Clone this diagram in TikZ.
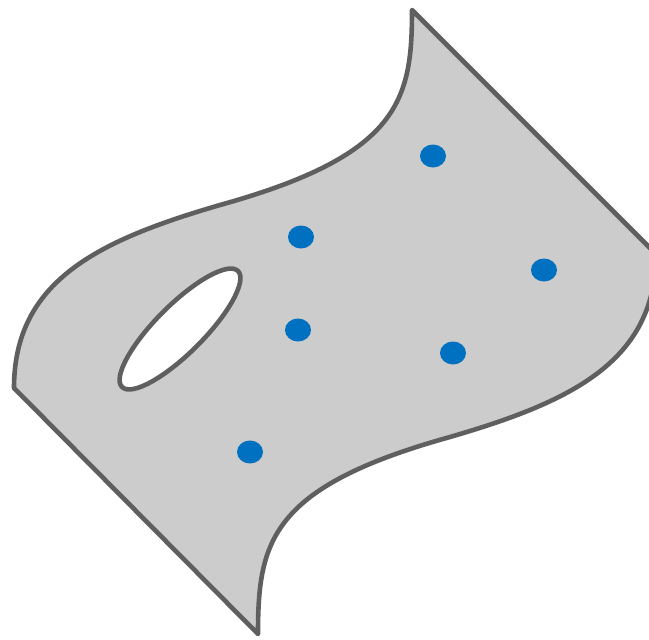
\documentclass[tikz,border=0pt]{standalone}
\usepackage{tikz}

\definecolor{sheetgray}{HTML}{CCCCCC}
\definecolor{edgegray}{HTML}{5F5F5F}
\definecolor{pointblue}{HTML}{0070C0}

\begin{document}
\begin{tikzpicture}[x=1pt, y=-1pt,
  surface/.style={fill=sheetgray, draw=edgegray, line width=4.6pt, line join=round},
  hole/.style={fill=white, draw=edgegray, line width=4.6pt},
  sample/.style={fill=pointblue}]
\useasboundingbox (0,0) rectangle (649,640);

% the sheet
\draw[surface] (14,388) .. controls (14,280) and (100,240) .. (220,205)
  .. controls (400,155) and (412,100) .. (412,10)
  -- (656,254)
  .. controls (656,362) and (570,402) .. (450,437)
  .. controls (270,487) and (258,542) .. (258,634)
  -- cycle;

% the hole
\draw[hole, rotate around={45:(180,329)}] (180,329) ellipse [x radius=82, y radius=24];

% the points
\fill[sample] (433,156) ellipse [x radius=13, y radius=11.5];
\fill[sample] (301,237) ellipse [x radius=13, y radius=11.5];
\fill[sample] (544,270) ellipse [x radius=13, y radius=11.5];
\fill[sample] (298,330) ellipse [x radius=13, y radius=11.5];
\fill[sample] (453,353) ellipse [x radius=13, y radius=11.5];
\fill[sample] (250,452) ellipse [x radius=13, y radius=11.5];
\end{tikzpicture}
\end{document}
